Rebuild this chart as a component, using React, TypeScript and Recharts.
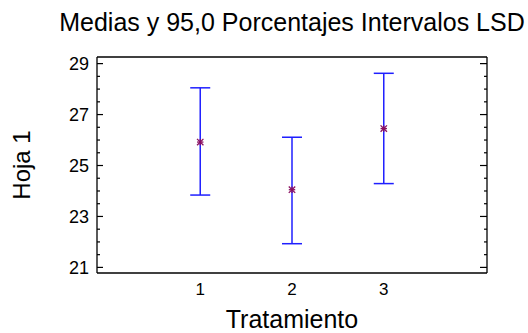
import React from 'react';
import { ScatterChart, Scatter, XAxis, YAxis, ErrorBar } from 'recharts';

const categories = [1, 2, 3];
const means = [25.92, 24.05, 26.45];
const lowers = [23.84, 21.93, 24.29];
const uppers = [28.05, 26.11, 28.62];
const xTicks = [1, 2, 3];
const yMajorTicks = [21, 23, 25, 27, 29];
const yAllTicks = [21, 21.5, 22, 22.5, 23, 23.5, 24, 24.5, 25, 25.5, 26, 26.5, 27, 27.5, 28, 28.5, 29];

const data = categories.map((c, i) => ({
  x: c,
  y: means[i],
  err: [means[i] - lowers[i], uppers[i] - means[i]],
}));

const FONT = '"Liberation Sans", Arial, sans-serif';
const LEFT_MARGIN = 8;

const LeftTick = (props: any) => {
  const { x, y, payload } = props;
  const v = payload.value;
  const major = yMajorTicks.includes(v);
  const ax = x + LEFT_MARGIN;
  return (
    <g>
      <line x1={ax} x2={ax + (major ? 6 : 3)} y1={y} y2={y} stroke="#000" strokeWidth={1.2} />
      {major && (
        <text x={x} y={y} dy="0.36em" textAnchor="end" fontSize={18} fontFamily={FONT} fill="#000">
          {v}
        </text>
      )}
    </g>
  );
};

const RightTick = (props: any) => {
  const { x, y, payload } = props;
  const major = yMajorTicks.includes(payload.value);
  return <line x1={x} x2={x - (major ? 7 : 3)} y1={y} y2={y} stroke="#000" strokeWidth={1.2} />;
};

const YLabel = (props: any) => {
  const vb = props.viewBox || { x: 0, y: 57, width: 97, height: 216 };
  const cx = vb.x + 30;
  const cy = vb.y + vb.height / 2;
  return (
    <text
      x={cx}
      y={cy}
      transform={`rotate(-90 ${cx} ${cy})`}
      textAnchor="middle"
      fontSize={24}
      fontFamily={FONT}
      fill="#000"
    >
      Hoja 1
    </text>
  );
};

const Star = (props: any) => {
  const { cx, cy } = props;
  const s = 3.2;
  const c = '#8a1060';
  return (
    <g stroke={c} strokeWidth={1.3}>
      <line x1={cx - s} y1={cy - s} x2={cx + s} y2={cy + s} />
      <line x1={cx - s} y1={cy + s} x2={cx + s} y2={cy - s} />
      <line x1={cx - s} y1={cy} x2={cx + s} y2={cy} />
      <line x1={cx} y1={cy - s} x2={cx} y2={cy + s} />
    </g>
  );
};

export default function App() {
  return (
    <div style={{ position: 'absolute', left: 0, top: 0, background: '#fff' }}>
      <ScatterChart width={528} height={333} margin={{ top: 56, right: 40, bottom: 0, left: 0 }}>
        <XAxis
          xAxisId="top"
          orientation="top"
          type="number"
          dataKey="x"
          domain={[-0.125, 4.125]}
          allowDataOverflow
          height={1}
          tick={false}
          tickLine={false}
          axisLine={{ stroke: '#000', strokeWidth: 1.3 }}
          label={{ value: 'Medias y 95,0 Porcentajes Intervalos LSD', position: 'top', offset: 25, fontSize: 25, fontFamily: FONT, fill: '#000' }}
        />
        <XAxis
          type="number"
          dataKey="x"
          domain={[-0.125, 4.125]}
          allowDataOverflow
          ticks={xTicks}
          interval={0}
          height={60}
          tickLine={false}
          tickSize={0}
          tickMargin={10}
          tick={{ fontSize: 17, fontFamily: FONT, fill: '#000' }}
          axisLine={{ stroke: '#000', strokeWidth: 1.3 }}
          label={{ value: 'Tratamiento', position: 'insideBottom', offset: 5, fontSize: 25, fontFamily: FONT, fill: '#000' }}
        />
        <YAxis
          type="number"
          dataKey="y"
          domain={[20.78, 29.26]}
          allowDataOverflow
          ticks={yAllTicks}
          interval={0}
          width={97}
          tickLine={false}
          tickSize={0}
          tickMargin={LEFT_MARGIN}
          tick={<LeftTick />}
          axisLine={{ stroke: '#000', strokeWidth: 1.3 }}
          label={<YLabel />}
        />
        <YAxis
          yAxisId="r"
          orientation="right"
          type="number"
          domain={[20.78, 29.26]}
          allowDataOverflow
          ticks={yAllTicks}
          interval={0}
          width={1}
          tickLine={false}
          tickSize={0}
          tickMargin={0}
          tick={<RightTick />}
          axisLine={{ stroke: '#000', strokeWidth: 1.3 }}
        />
        <Scatter data={data} isAnimationActive={false} shape={<Star />}>
          <ErrorBar dataKey="err" direction="y" width={10} stroke="#1f1fff" strokeWidth={1.5} />
        </Scatter>
      </ScatterChart>
    </div>
  );
}
